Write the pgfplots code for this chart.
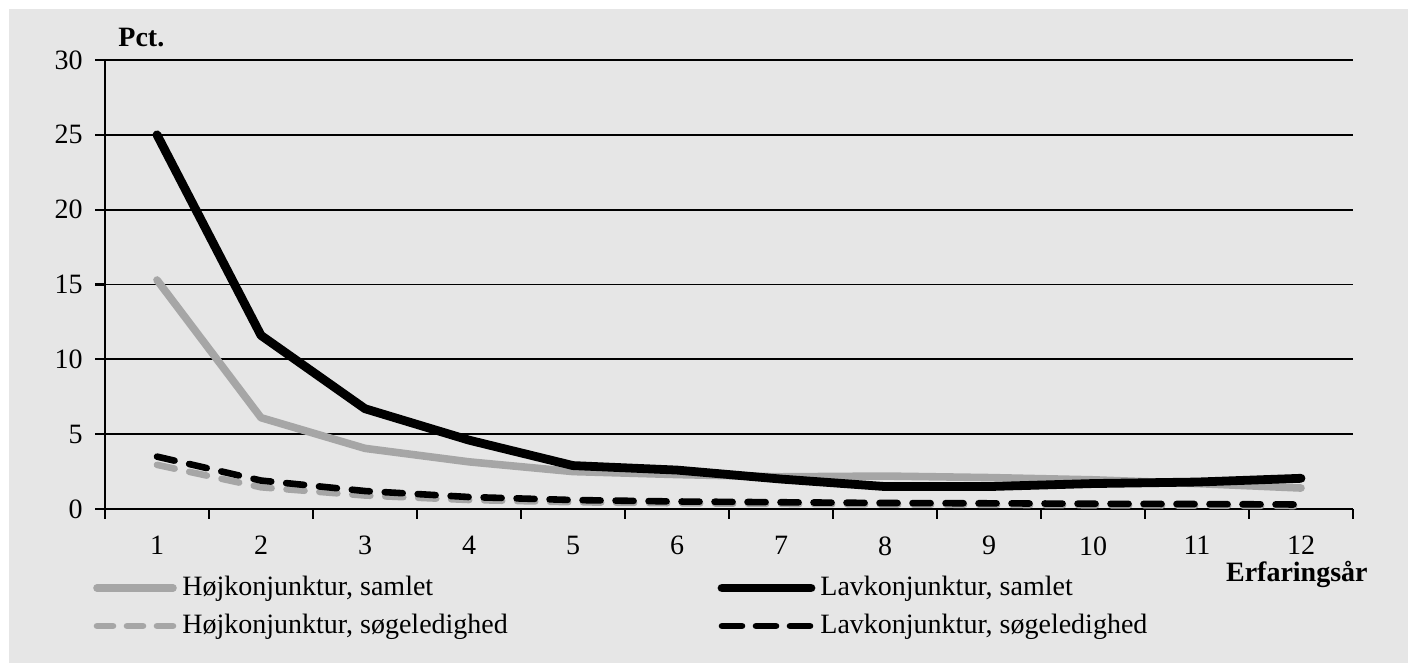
\documentclass[border=0pt]{standalone}
\usepackage{fontspec}
\setmainfont{Liberation Serif}
\usepackage{pgfplots}
\pgfplotsset{compat=1.18}
\definecolor{bgc}{RGB}{230,230,230}
\definecolor{lgray}{RGB}{166,166,166}
\begin{document}
\fontsize{14}{17}\selectfont
\begin{tikzpicture}[x=1pt,y=1pt]
\useasboundingbox (0,0) rectangle (707.5,331.5);
\fill[bgc] (4.5,0) rectangle (704,327);
\begin{axis}[
  at={(52.5pt,77pt)}, anchor=south west,
  scale only axis, width=624pt, height=224.5pt,
  xmin=0.5, xmax=12.5, ymin=0, ymax=30,
  axis x line*=bottom, axis y line*=left,
  axis line style={line width=1.3pt,-},
  xtick={0.5,1.5,...,12.5},
  x tick label as interval,
  xticklabels={1,2,3,4,5,6,7,8,9,10,11,12},
  ytick={0,5,...,30},
  tick align=outside,
  major tick length=5pt,
  tick style={line width=1.1pt, black},
  ymajorgrids,
  major grid style={black, line width=0.9pt},
  /pgf/number format/assume math mode=true,
  xticklabel style={inner sep=0pt, anchor=north, yshift=-8.5pt},
  yticklabel style={inner sep=0pt, anchor=east, xshift=-6pt},
  clip=false,
]
\addplot[lgray, line width=3.8pt, line cap=round, line join=round] coordinates {
 (1,15.3) (2,6.1) (3,4.05) (4,3.15) (5,2.5) (6,2.3) (7,2.15) (8,2.2) (9,2.1) (10,1.95) (11,1.7) (12,1.4)};
\addplot[black, line width=4.4pt, line cap=round, line join=round] coordinates {
 (1,25) (2,11.6) (3,6.7) (4,4.6) (5,2.9) (6,2.6) (7,2.0) (8,1.5) (9,1.5) (10,1.7) (11,1.8) (12,2.05)};
\addplot[lgray, line width=3.3pt, line cap=round, dash pattern=on 9pt off 7.5pt] coordinates {
 (1,2.95) (2,1.45) (3,0.9) (4,0.6) (5,0.45) (6,0.38) (7,0.34) (8,0.3) (9,0.28) (10,0.25) (11,0.23) (12,0.2)};
\addplot[black, line width=3.3pt, line cap=round, dash pattern=on 9pt off 7.5pt] coordinates {
 (1,3.5) (2,1.9) (3,1.2) (4,0.8) (5,0.6) (6,0.5) (7,0.45) (8,0.4) (9,0.38) (10,0.35) (11,0.33) (12,0.3)};
\end{axis}
\node[anchor=base west, inner sep=0pt, font=\bfseries] at (59,308) {Pct.};
\node[anchor=base east, inner sep=0pt, font=\bfseries] at (684,40.5) {Erfaringsår};
% legend
\draw[lgray, line width=3.8pt, line cap=round] (48.5,37.5) -- (86.5,37.5);
\node[anchor=base west, inner sep=0pt] at (91,33.5) {Højkonjunktur, samlet};
\draw[lgray, line width=3.3pt, line cap=round, dash pattern=on 8pt off 7pt] (48.5,18.5) -- (86.5,18.5);
\node[anchor=base west, inner sep=0pt] at (91,14.5) {Højkonjunktur, søgeledighed};
\draw[black, line width=4.4pt, line cap=round] (361,37.5) -- (405.5,37.5);
\node[anchor=base west, inner sep=0pt] at (410,33.5) {Lavkonjunktur, samlet};
\draw[black, line width=3.3pt, line cap=round, dash pattern=on 10pt off 7pt] (361,18.5) -- (405.5,18.5);
\node[anchor=base west, inner sep=0pt] at (410,14.5) {Lavkonjunktur, søgeledighed};
\end{tikzpicture}
\end{document}
